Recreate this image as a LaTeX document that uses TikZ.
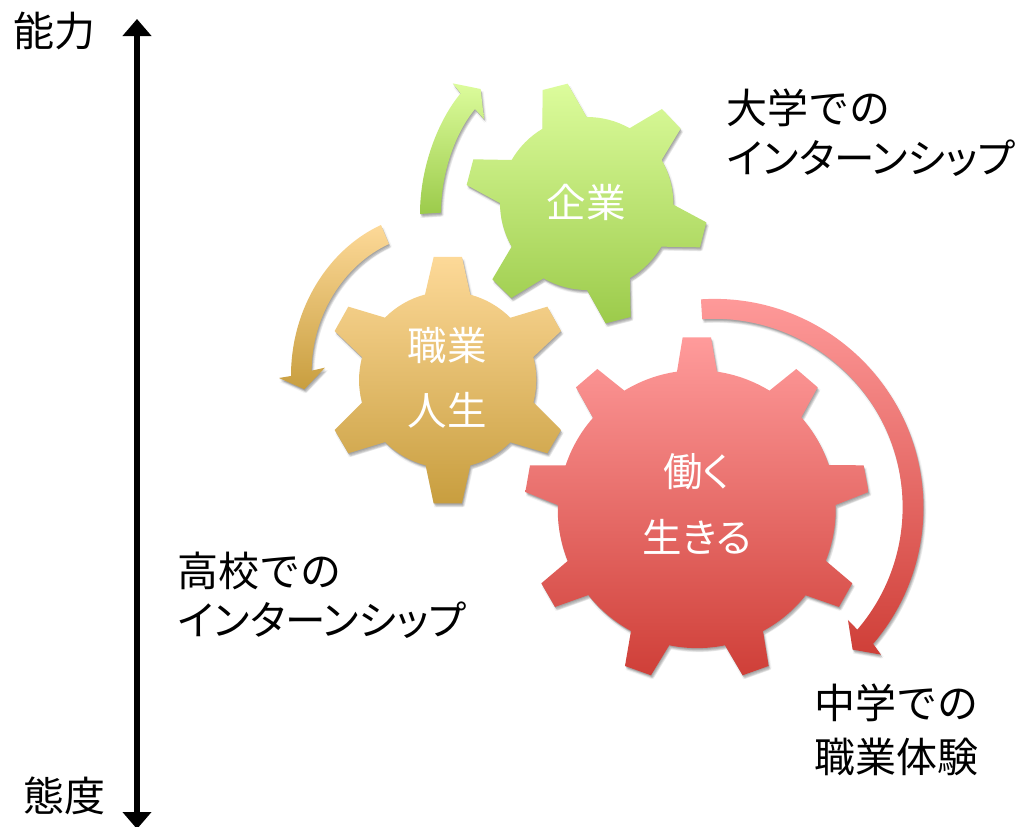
\documentclass[tikz,border=0pt]{standalone}
\usepackage{fontspec}
\setmainfont{Noto Sans CJK JP}
\newfontfamily\kanafont[RawFeature=+palt]{Noto Sans CJK JP}
\newcommand{\garc}[2]{arc[start angle=#1,end angle=#2,radius=\gearR]}
\newcommand{\withshadow}[2]{%
  \foreach \sx/\sy/\so in {1/3/.10,3/6/.10,5/9/.08,7/11/.06,2/12/.05,9/7/.04}{%
    \fill[black,opacity=\so,shift={(\sx,\sy)}] #1;}%
  \path[shade,shading=axis,#2] #1;}
\definecolor{redtop}{HTML}{FF9B9B}
\definecolor{redmid}{HTML}{F28785}
\definecolor{redbot}{HTML}{CF3F38}
\definecolor{greentop}{HTML}{DCFC9C}
\definecolor{greenmid}{HTML}{C8EA86}
\definecolor{greenbot}{HTML}{9CCB4B}
\definecolor{orangetop}{HTML}{FDD998}
\definecolor{orangemid}{HTML}{EEC985}
\definecolor{orangebot}{HTML}{C89E3F}
\usetikzlibrary{arrows.meta}
\tikzset{
  redfill/.style={top color=redtop,middle color=redmid,bottom color=redbot},
  greenfill/.style={top color=greentop,middle color=greenmid,bottom color=greenbot},
  orangefill/.style={top color=orangetop,middle color=orangemid,bottom color=orangebot},
  bigtext/.style={font=\fontsize{41}{41}\selectfont,inner sep=0pt,anchor=west,text=black},
  kanatext/.style={font=\fontsize{40.5}{40.5}\selectfont\kanafont,inner sep=0pt,anchor=west,text=black},
  geartext/.style={font=\fontsize{39.5}{39.5}\selectfont,inner sep=0pt,text=white},
  axisline/.style={black,line width=5.5pt,{Triangle[width=28pt,length=17pt]}-{Triangle[width=28pt,length=17pt]}}
}
\begin{document}
\begin{tikzpicture}[x=1pt,y=-1pt]
\useasboundingbox (0,0) rectangle (1015,827);
% green gear
\begin{scope}[shift={(410,70)},x=.3333pt,y=-.3333pt]
\def\gearR{261}
\def\gearpath{(531,400)++(239.1:261) -- (398,60) -- (473,41) -- (530,141) \garc{-90.2}{-60.6} -- (756,117) -- (812,176) -- (755,270) \garc{-30.1}{0.7} -- (889,457) -- (870,532) -- (754,530) \garc{30.2}{59.8} -- (662,741) -- (587,760) -- (531,660) \garc{90}{120} -- (304,684) -- (247,628) -- (305,530) \garc{150}{180} -- (170,345) -- (190,268) -- (305,270) \garc{210}{239.1} -- cycle}
\withshadow{\gearpath}{greenfill}
\def\arrowpath{(30,432) .. controls (30,290) and (85,150) .. (152,70) -- (128,40) -- (212,57) -- (222,147) -- (195,117) .. controls (135,190) and (93,310) .. (93,428) -- cycle}
\withshadow{\arrowpath}{greenfill}
\end{scope}
% orange gear
\begin{scope}[shift={(270,220)},x=.3333pt,y=-.3333pt]
\def\gearR{265}
\def\gearpath{(465,224) -- (491,111) -- (576,111) -- (601,224) \garc{-75.1}{-44.8} -- (832,260) -- (873,333) -- (790,411) \garc{-15}{14.7} -- (873,630) -- (832,700) -- (721,667) \garc{44.8}{75.1} -- (601,736) -- (576,850) -- (491,850) -- (467,736) \garc{104.5}{135.2} -- (235,700) -- (194,630) -- (276,548) \garc{165.2}{195} -- (194,333) -- (235,260) -- (345,293) \garc{224.8}{255.1} -- cycle}
\withshadow{\gearpath}{orangefill}
\def\arrowpath{(333,15) .. controls (180,85) and (63,260) .. (63,468) -- (27,474) -- (103,508) -- (165,443) -- (125,452) .. controls (125,290) and (220,135) .. (357,72) -- cycle}
\withshadow{\arrowpath}{orangefill}
\end{scope}
% red gear
\begin{scope}[shift={(510,290)},x=.3333pt,y=-.3333pt]
\def\gearR{416}
\def\gearpath{(501,245) -- (518,142) -- (603,142) -- (621,245) \garc{-81.7}{-58.5} -- (859,237) -- (923,292) -- (874,382) \garc{-41.4}{-18.5} -- (1061,526) -- (1076,606) -- (977,645) \garc{-1.8}{21.8} -- (1027,880) -- (987,951) -- (887,916) \garc{38.4}{61.5} -- (759,1023) -- (776,1128) -- (698,1156) -- (645,1066) \garc{78.4}{101.6} -- (423,1156) -- (345,1128) -- (363,1023) \garc{118.5}{141.7} -- (135,951) -- (94,880) -- (173,813) \garc{158.2}{181.8} -- (46,606) -- (60,526) -- (167,526) \garc{198.5}{221.3} -- (198,292) -- (262,237) -- (343,302) \garc{238.5}{261.7} -- cycle}
\withshadow{\gearpath}{redfill}
\def\arrowpath{(573,28) arc[start angle=-93.7,end angle=40.6,radius=627] -- (1113,1094) -- (1028,1079) -- (1014,990) -- (1042,1019) arc[start angle=40.6,end angle=-93.7,radius=565] -- cycle}
\withshadow{\arrowpath}{redfill}
\end{scope}
% axis
\coordinate (axtop) at (137,19);
\coordinate (axbot) at (137,829);
\draw[axisline] (axtop) -- (axbot);
% texts
\node[bigtext] (t1) at (13,31) {能力};
\node[bigtext] (t2) at (23,796) {態度};
\node[bigtext] (t3) at (726,108) {大学での};
\node[kanatext] (t4) at (727,158) {インターンシップ};
\node[bigtext] (t5) at (177,571) {高校での};
\node[kanatext] (t6) at (178,620) {インターンシップ};
\node[bigtext] (t7) at (814,703) {中学での};
\node[bigtext] (t8) at (814,757) {職業体験};
\node[geartext] (g1) at (586,202) {企業};
\node[geartext] (g2) at (447,345) {職業};
\node[geartext] (g3) at (447,410) {人生};
\node[geartext] (g4) at (697,472) {\kanafont 働く};
\node[geartext] (g5) at (697,537) {\kanafont 生きる};
\end{tikzpicture}
\end{document}
